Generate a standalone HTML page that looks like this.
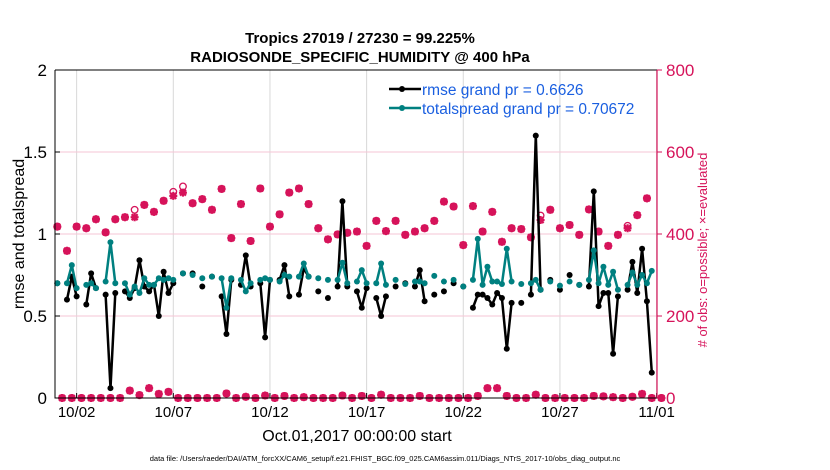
<!DOCTYPE html>
<html><head><meta charset="utf-8"><style>
body{margin:0;background:#fff;}
svg{display:block;font-family:"Liberation Sans",sans-serif;}
</style></head><body>
<svg id="chart" width="830" height="470" viewBox="0 0 830 470" xmlns="http://www.w3.org/2000/svg">
<text x="360" y="43" text-anchor="middle" font-size="15" font-weight="bold">Tropics 27019 / 27230 = 99.225%</text>
<text x="360" y="62" text-anchor="middle" font-size="15" font-weight="bold">RADIOSONDE_SPECIFIC_HUMIDITY @ 400 hPa</text>
<g id="grid"></g>
<g id="marks"></g>
<g id="axes"></g>
<text transform="translate(24,234) rotate(-90)" text-anchor="middle" font-size="16">rmse and totalspread</text>
<text transform="translate(707,250) rotate(-90)" text-anchor="middle" font-size="13" fill="#d6135a"># of obs: o=possible; ×=evaluated</text>
<text x="357" y="441" text-anchor="middle" font-size="16">Oct.01,2017 00:00:00 start</text>
<text x="385" y="461" text-anchor="middle" font-size="7.5">data file: /Users/raeder/DAI/ATM_forcXX/CAM6_setup/f.e21.FHIST_BGC.f09_025.CAM6assim.011/Diags_NTrS_2017-10/obs_diag_output.nc</text>
<g>
<line x1="389" y1="89" x2="421" y2="89" stroke="#000" stroke-width="2.5"/><circle cx="402" cy="89" r="3" fill="#000"/>
<text x="422" y="95" font-size="15.5" fill="#1a5fe0">rmse grand pr = 0.6626</text>
<line x1="389" y1="108" x2="421" y2="108" stroke="#008080" stroke-width="2.5"/><circle cx="402" cy="108" r="3" fill="#008080"/>
<text x="422" y="114" font-size="15.5" fill="#1a5fe0">totalspread grand pr = 0.70672</text>
</g>
</svg>
<script>
const times = [0,2,3,4,6,7,8,10,11,12, 14,15,16,17,18,19,20,21,22,23, 24,26,28,30,32,34,35,36,38,39, 40,42,43,44,46,47,48,50,51,52, 54,56,58,59,60,62,63,64,66,67, 68,70,72,74,75,76,78,80,82,84, 86,87,88,89,90,91,92,93,94,96, 98,99,100,102,104,106,108,110,111,112, 113,114,115,116,118,119,120,121,122,123];
const rmse = [.70,.60,.74,.62,.57,.76,.67,.63,.06,.64, .65,.61,.67,.84,.68,.65,.69,.50,.77,.64, .70,.76,.76,.68,.74,.62,.39,.72,.69,.87, .68,.70,.37,.72,.72,.81,.62,.63,.79,.74, .65,.61,.68,1.20,.68,.65,.55,.67,.61,.50, .62,.68,.70,.68,.78,.59,.63,.65,.70,.68, .55,.63,.63,.61,.57,.64,.61,.30,.58,.58, .63,1.60,.66,.72,.66,.75,.69,.68,1.26,.56, .64,.64,.27,.62,.66,.83,.64,.91,.59,.155];
const spread = [.70,.70,.81,.67,.69,.70,.67,.71,.95,.70, .70,.63,.68,.64,.73,.69,.69,.73,.72,.73, .72,.76,.75,.73,.74,.73,.55,.73,.72,.65, .70,.72,.73,.72,.71,.75,.74,.74,.82,.74, .73,.72,.72,.825,.70,.71,.78,.70,.70,.82, .69,.72,.695,.71,.71,.70,.745,.71,.72,.68, .72,.97,.69,.80,.71,.71,.695,.91,.71,.695, .70,.72,.66,.71,.685,.71,.69,.72,.90,.70, .80,.69,.77,.66,.69,.765,.69,.75,.70,.775];
const obsEvalEven = [418,359,418,414,436,404,436,441,441,471,454,481,493,501,475,485,459,510,390,473,383,511,418,448,501,511,473,414,387,399,403,406,371,432,407,432,398,406,414,432,479,467,373,468,406,454,381,414,412,392,434,459,414,422,398,460,406,371,398,414,446,487];
const obsEvalOdd = [0,0,0,0,0,0,0,18,7,24,10,15,0,0,0,0,0,11,0,3,0,6,0,5,0,2,0,0,0,6,0,5,0,8,0,0,0,5,0,0,0,0,0,5,24,24,5,0,0,8,0,0,0,0,0,5,4,2,0,3,10,0,0];
const obsPossEven = [418,359,418,414,436,404,436,441,459,471,454,481,503,516,475,485,459,510,390,473,383,511,418,448,501,511,473,414,387,399,403,406,371,432,407,432,398,406,414,432,479,467,373,468,406,454,381,414,412,392,445,459,414,422,398,460,406,371,398,420,446,487];
const xTickIdx = [4,24,44,64,84,104,124];
const xTickLabels = ["10/02","10/07","10/12","10/17","10/22","10/27","11/01"];
const yTicks = [0,0.5,1,1.5,2];
const yTickLabels = ["0","0.5","1","1.5","2"];
const rTicks = [0,200,400,600,800];

const L=55,R=657,T=70,B=398;
const xs = i => 57.3 + i*4.833;
const ys = v => B - v/2*(B-T);
const yr = c => B - c/800*(B-T);
const NS="http://www.w3.org/2000/svg";
function mk(parent, tag, attrs){const e=document.createElementNS(NS,tag);for(const k in attrs)e.setAttribute(k,attrs[k]);parent.appendChild(e);return e;}
const grid=document.getElementById('grid'), marks=document.getElementById('marks'), axes=document.getElementById('axes');

xTickIdx.forEach((t,k)=>{
  const g=mk(grid,'line',{x1:xs(t),x2:xs(t),y1:T,y2:B,stroke:'#d8d8d8','stroke-width':1});
  
  
  const tl=mk(axes,'text',{x:xs(t),y:B+19,'text-anchor':'middle','font-size':15});
  tl.textContent=xTickLabels[k];
  
  
  mk(axes,'line',{x1:xs(t),x2:xs(t),y1:B,y2:B-5,stroke:'#000'});
});
rTicks.forEach(c=>{
  if(c>0&&c<800){const g=mk(grid,'line',{x1:L,x2:R,y1:yr(c),y2:yr(c),stroke:'#f6c6d6','stroke-width':1});
  
  }
  mk(axes,'line',{x1:R,x2:R+5,y1:yr(c),y2:yr(c),stroke:'#d6135a'});
  const tl=mk(axes,'text',{x:R+9,y:yr(c)+6,'font-size':17,fill:'#d6135a'});
  tl.textContent=String(c);
  
  
});
yTicks.forEach((v,k)=>{
  mk(axes,'line',{x1:L,x2:L+5,y1:ys(v),y2:ys(v),stroke:'#000'});
  const tl=mk(axes,'text',{x:L-8,y:ys(v)+6,'text-anchor':'end','font-size':17});
  tl.textContent=yTickLabels[k];
  
  
});
mk(axes,'path',{d:`M${L},${T}V${B}H${R}`,fill:'none',stroke:'#000','stroke-width':1});
mk(axes,'line',{x1:L,x2:R,y1:T,y2:T,stroke:'#000'});
mk(axes,'line',{x1:R,x2:R,y1:T,y2:B,stroke:'#d6135a','stroke-width':1.2});

function obsMark(i,cp,ce){
  const c='#d6135a';
  const o=mk(marks,'circle',{cx:xs(i),cy:yr(cp),r:3.3,fill:'none',stroke:c,'stroke-width':1.3});
  
  
  const x=xs(i),y=yr(ce),s=4;
  const p=mk(marks,'path',{d:`M${x-s},${y}H${x+s}M${x},${y-s}V${y+s}M${x-3},${y-3}L${x+3},${y+3}M${x-3},${y+3}L${x+3},${y-3}`,stroke:c,'stroke-width':2.2,fill:'none'});
  
  
  mk(marks,'circle',{cx:x,cy:y,r:2.4,fill:c});
}
obsEvalEven.forEach((c,k)=>obsMark(2*k,obsPossEven[k],c));
obsEvalOdd.forEach((c,k)=>obsMark(2*k+1,c,c));

function series(vals,color,name){
  let d='';
  times.forEach((t,k)=>{
    const cmd=(k>0&&t-times[k-1]===1)?'L':'M';
    d+=cmd+xs(t).toFixed(1)+','+ys(vals[k]).toFixed(1);
  });
  const p=mk(marks,'path',{d:d,fill:'none',stroke:color,'stroke-width':2.5,'stroke-linejoin':'round'});
  
  
  times.forEach((t,k)=>{
    const c=mk(marks,'circle',{cx:xs(t),cy:ys(vals[k]),r:3,fill:color});
    
    
  });
}
series(rmse,'#000','rmse');
series(spread,'#008080','totalspread');
</script>
</body></html>
